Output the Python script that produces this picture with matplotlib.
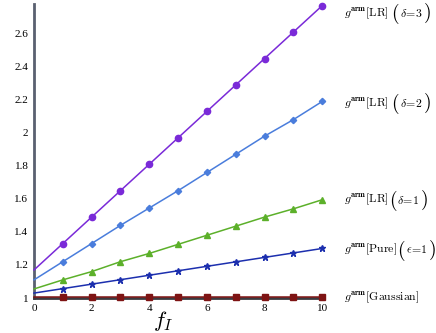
import matplotlib

matplotlib.use("Agg")
import matplotlib.pyplot as plt

plt.rcParams["font.family"] = ["Liberation Serif", "DejaVu Serif"]
plt.rcParams["mathtext.fontset"] = "cm"

F_I = [0, 1, 2, 3, 4, 5, 6, 7, 8, 9, 10]

LR_D3 = [1.17, 1.33, 1.49, 1.65, 1.81, 1.97, 2.13, 2.29, 2.45, 2.61, 2.77]
LR_D2 = [1.11, 1.22, 1.33, 1.44, 1.545, 1.65, 1.76, 1.87, 1.98, 2.08, 2.19]
LR_D1 = [1.055, 1.11, 1.16, 1.22, 1.27, 1.325, 1.38, 1.435, 1.49, 1.54, 1.595]
PURE_E1 = [1.03, 1.057, 1.084, 1.111, 1.138, 1.165, 1.192, 1.219, 1.246, 1.273, 1.30]
GAUSSIAN = [1.004, 1.004, 1.004, 1.004, 1.004, 1.004, 1.004, 1.004, 1.004, 1.004, 1.004]

# (values, colour, marker, marker size, label head, label in parentheses, label y, gap before paren)
SERIES = [
    (LR_D3, "#7a2ad8", "o", 4.5, r"$g^{\mathbf{arm}}[\mathrm{LR}]$", r"$\delta\!=\!3$", 2.725, 1.8),
    (LR_D2, "#4a7ddc", "D", 3.2, r"$g^{\mathbf{arm}}[\mathrm{LR}]$", r"$\delta\!=\!2$", 2.18, 1.8),
    (LR_D1, "#5cb02a", "^", 4.2, r"$g^{\mathbf{arm}}[\mathrm{LR}]$", r"$\delta\!=\!1$", 1.595, 0.0),
    (PURE_E1, "#1c2fae", "*", 5.0, r"$g^{\mathbf{arm}}[\mathrm{Pure}]$", r"$\epsilon\!=\!1$", 1.295, 0.0),
    (GAUSSIAN, "#7e1414", "s", 3.8, r"$g^{\mathbf{arm}}[\mathrm{Gaussian}]$", None, 1.003, 0.0),
]

fig = plt.figure(figsize=(4.36, 3.33), dpi=100)
ax = fig.add_axes([0.078, 0.105, 0.661, 0.883])

for ys, color, marker, ms, head, inner, label_y, gap in SERIES:
    ax.plot(F_I, ys, color=color, linewidth=1.1, marker=marker, markersize=ms,
            markevery=list(range(1, len(F_I))), clip_on=False, zorder=3)
    t = ax.text(10.75, label_y, head, fontsize=8.5, va="center", ha="left")
    if inner is None:
        continue
    p1 = ax.annotate(r"$($", xy=(1, 0.45), xycoords=t, xytext=(gap, 0),
                     textcoords="offset points", fontsize=14, va="center", ha="left")
    mid = ax.annotate(inner, xy=(1, 0.5), xycoords=p1, xytext=(0.3, 0),
                      textcoords="offset points", fontsize=8.5, va="center", ha="left")
    ax.annotate(r"$)$", xy=(1, 0.5), xycoords=mid, xytext=(0.3, 0),
                textcoords="offset points", fontsize=14, va="center", ha="left")

ax.set_xlim(0, 10)
ax.set_ylim(1, 2.78)
ax.set_xticks([0, 2, 4, 6, 8, 10])
ax.set_yticks([1, 1.2, 1.4, 1.6, 1.8, 2, 2.2, 2.4, 2.6])
ax.set_yticklabels(["1", "1.2", "1.4", "1.6", "1.8", "2", "2.2", "2.4", "2.6"])
ax.tick_params(length=0, labelsize=8, pad=4)

ax.spines["top"].set_visible(False)
ax.spines["right"].set_visible(False)
ax.spines["left"].set_color("#5a6070")
ax.spines["left"].set_linewidth(2)
ax.spines["bottom"].set_color("#3a3a40")
ax.spines["bottom"].set_linewidth(2)

fig.text(0.375, 0.035, r"$f_I$", fontsize=16, ha="center", va="center")

fig.savefig("out.png", dpi=100)
